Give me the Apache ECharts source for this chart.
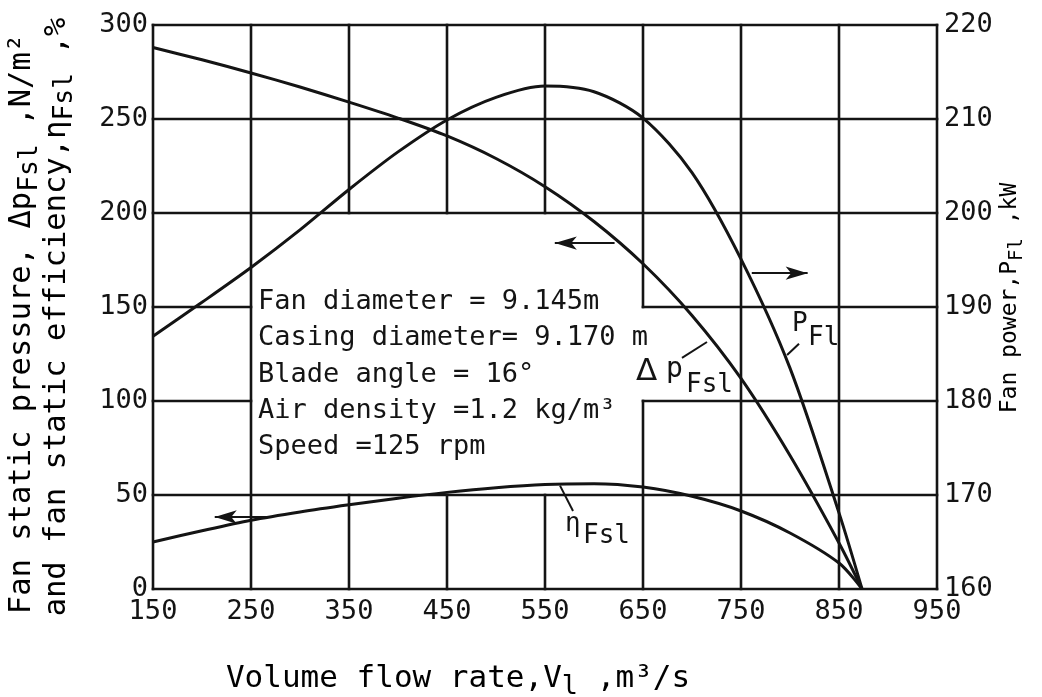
<!DOCTYPE html>
<html>
<head>
<meta charset="utf-8">
<title>Fan characteristics</title>
<script src="https://cdn.jsdelivr.net/npm/echarts@6/dist/echarts.min.js"></script>
<style>
  html, body { margin: 0; padding: 0; background: #ffffff; }
  #chart { width: 1042px; height: 697px; }
</style>
</head>
<body>
<div id="chart"></div>
<script>
// Volume flow rate, m3/s
const flowRate = [150, 200, 250, 300, 350, 400, 450, 500, 550, 600, 650, 700, 750, 800, 850, 873.5];
// Fan static pressure, N/m2 (left axis)
const staticPressure = [288, 281.5, 274.5, 267, 259, 250.5, 241, 229, 214, 195.5, 173, 145.5, 112, 71, 24.5, 0];
// Fan static efficiency, % (left axis)
const staticEfficiency = [25, 31, 36.6, 41, 44.8, 48.3, 51.4, 53.9, 55.6, 56.0, 54.2, 49.3, 41.5, 29.8, 13.8, 0];
// Fan power, kW (right axis)
const fanPower = [186.9, 190.5, 194.2, 198.2, 202.5, 206.5, 209.9, 212.3, 213.5, 212.9, 210.1, 204.3, 195.1, 183.5, 168.1, 160];

const xTicks = [150, 250, 350, 450, 550, 650, 750, 850, 950];

// Grid rulings [x1, y1, x2, y2] in flow-rate / left-axis units; gaps leave room for the data panel
const gridSegments = [
  [150, 300, 950, 300], [150, 250, 950, 250], [150, 200, 950, 200],
  [150, 150, 250, 150], [650, 150, 950, 150],
  [150, 100, 250, 100], [650, 100, 950, 100],
  [150, 50, 950, 50], [150, 0, 950, 0],
  [150, 0, 150, 300], [250, 0, 250, 300],
  [350, 0, 350, 50], [350, 200, 350, 300],
  [450, 0, 450, 50], [450, 200, 450, 300],
  [550, 0, 550, 50], [550, 200, 550, 300],
  [650, 0, 650, 100], [650, 150, 650, 300],
  [750, 0, 750, 300], [850, 0, 850, 300], [950, 0, 950, 300]
];

const infoLines = [
  'Fan diameter = 9.145m',
  'Casing diameter= 9.170 m',
  'Blade angle = 16°',
  'Air density =1.2 kg/m³',
  'Speed =125 rpm'
];

const FONT = "'DejaVu Sans Mono', monospace";
const INK = '#141414';

const zip = (xs, ys) => xs.map((x, i) => [x, ys[i]]);

const chart = echarts.init(document.getElementById('chart'), null, { renderer: 'canvas' });

const leader = (a, b) => [{ coord: a, symbol: 'none' }, { coord: b, symbol: 'none' }];
const arrow = (a, b) => [{ coord: a, symbol: 'none' }, { coord: b, symbol: 'arrow', symbolSize: [10, 22] }];

const markStyle = {
  silent: true,
  animation: false,
  label: { show: false },
  lineStyle: { color: INK, width: 2, type: 'solid' },
  emphasis: { disabled: true }
};

const subRich = (size, drop) => ({
  m: { fontFamily: FONT, fontSize: size, color: INK, verticalAlign: 'top' },
  s: { fontFamily: FONT, fontSize: size - 4, color: INK, verticalAlign: 'top', padding: [drop, 0, 0, 0] }
});

const curveStyle = { color: INK, width: 3 };
const SMOOTH = 0.3;

const option = {
  backgroundColor: '#ffffff',
  animation: false,
  grid: { left: 153, right: 105, top: 25, bottom: 108 },
  xAxis: {
    type: 'value', min: 150, max: 950,
    axisLine: { show: false }, axisTick: { show: false }, splitLine: { show: false },
    axisLabel: { customValues: xTicks, fontFamily: FONT, fontSize: 27, color: INK, margin: 9 }
  },
  yAxis: [
    {
      type: 'value', min: 0, max: 300, interval: 50, position: 'left',
      axisLine: { show: false }, axisTick: { show: false }, splitLine: { show: false },
      axisLabel: { fontFamily: FONT, fontSize: 27, color: INK, margin: 5 }
    },
    {
      type: 'value', min: 160, max: 220, interval: 10, position: 'right',
      axisLine: { show: false }, axisTick: { show: false }, splitLine: { show: false },
      axisLabel: { fontFamily: FONT, fontSize: 27, color: INK, margin: 7 }
    }
  ],
  series: [
    {
      name: 'grid',
      type: 'custom',
      coordinateSystem: 'cartesian2d',
      xAxisIndex: 0, yAxisIndex: 0,
      silent: true, clip: false, z: 1,
      encode: { x: [0, 2], y: [1, 3] },
      data: gridSegments,
      renderItem: function (params, api) {
        const p1 = api.coord([api.value(0), api.value(1)]);
        const p2 = api.coord([api.value(2), api.value(3)]);
        return {
          type: 'line',
          shape: { x1: p1[0], y1: p1[1], x2: p2[0], y2: p2[1] },
          style: { stroke: INK, lineWidth: 2.6, lineCap: 'square' }
        };
      }
    },
    {
      name: 'Fan static pressure',
      type: 'line', yAxisIndex: 0, z: 3,
      data: zip(flowRate, staticPressure),
      showSymbol: false, smooth: SMOOTH,
      lineStyle: curveStyle,
      markLine: Object.assign({}, markStyle, {
        data: [
          arrow([621, 184], [560, 184]),
          leader([715.3, 131.4], [689.8, 122.9])
        ]
      })
    },
    {
      name: 'Fan static efficiency',
      type: 'line', yAxisIndex: 0, z: 3,
      data: zip(flowRate, staticEfficiency),
      showSymbol: false, smooth: SMOOTH,
      lineStyle: curveStyle,
      markLine: Object.assign({}, markStyle, {
        data: [
          arrow([269, 38.3], [213, 38.3]),
          leader([565.3, 55], [578.6, 41.5])
        ]
      })
    },
    {
      name: 'Fan power',
      type: 'line', yAxisIndex: 1, z: 3,
      data: zip(flowRate, fanPower),
      showSymbol: false, smooth: SMOOTH,
      lineStyle: curveStyle,
      markLine: Object.assign({}, markStyle, {
        data: [
          arrow([761, 193.6], [818, 193.6]),
          leader([797, 184.9], [809.2, 186.1])
        ]
      })
    }
  ],
  graphic: [
    // data panel
    {
      type: 'text', left: 258, top: 284, silent: true,
      style: { text: infoLines.join('\n'), fontFamily: FONT, fontSize: 27, lineHeight: 36.3, fill: INK }
    },
    // curve labels
    { type: 'text', x: 636, y: 372, silent: true,
      style: { text: 'Δ', fontFamily: "'DejaVu Sans', sans-serif", fontSize: 31, fill: INK, verticalAlign: 'middle' } },
    { type: 'text', x: 666, y: 370, silent: true,
      style: { text: 'p', fontFamily: FONT, fontSize: 28, fill: INK, verticalAlign: 'middle' } },
    { type: 'text', x: 686, y: 385, silent: true,
      style: { text: 'Fsl', fontFamily: FONT, fontSize: 26, fill: INK, verticalAlign: 'middle' } },
    { type: 'text', x: 792, y: 324, silent: true,
      style: { text: 'P', fontFamily: FONT, fontSize: 26, fill: INK, verticalAlign: 'middle' } },
    { type: 'text', x: 808, y: 338, silent: true,
      style: { text: 'Fl', fontFamily: FONT, fontSize: 26, fill: INK, verticalAlign: 'middle' } },
    { type: 'text', x: 565, y: 524, silent: true,
      style: { text: 'η', fontFamily: FONT, fontSize: 26, fill: INK, verticalAlign: 'middle' } },
    { type: 'text', x: 583, y: 536, silent: true,
      style: { text: 'Fsl', fontFamily: FONT, fontSize: 26, fill: INK, verticalAlign: 'middle' } },
    // left axis title, two lines
    {
      type: 'text', x: 25, y: 324, rotation: Math.PI / 2, silent: true,
      style: {
        text: '{m|Fan static pressure, Δp}{s|Fsl}{m| ,N/m²}',
        rich: subRich(30.5, 10), align: 'center', verticalAlign: 'middle'
      }
    },
    {
      type: 'text', x: 60, y: 317, rotation: Math.PI / 2, silent: true,
      style: {
        text: '{m|and fan static efficiency,η}{s|Fsl}{m| ,%}',
        rich: subRich(30.5, 10), align: 'center', verticalAlign: 'middle'
      }
    },
    // right axis title
    {
      type: 'text', x: 1013, y: 298, rotation: Math.PI / 2, silent: true,
      style: {
        text: '{m|Fan power,P}{s|Fl}{m| ,kW}',
        rich: subRich(23, 9), align: 'center', verticalAlign: 'middle'
      }
    },
    // x axis title
    {
      type: 'text', x: 458, y: 682, silent: true,
      style: {
        text: '{m|Volume flow rate,V}{s|l}{m| ,m³/s}',
        rich: subRich(31, 10), align: 'center', verticalAlign: 'middle'
      }
    }
  ]
};

chart.setOption(option);
</script>
</body>
</html>
